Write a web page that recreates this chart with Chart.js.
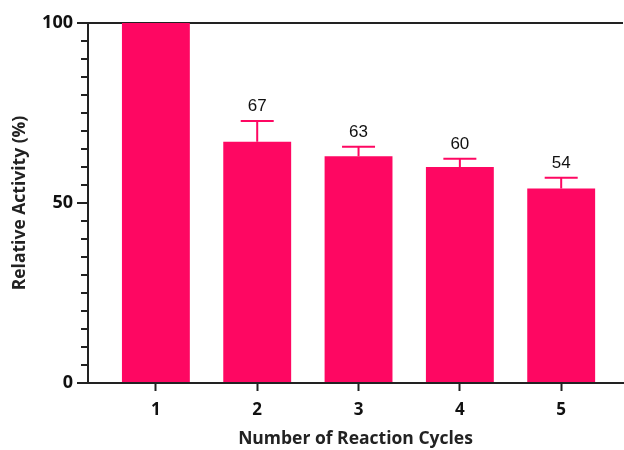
<!DOCTYPE html>
<html>
<head>
<meta charset="utf-8">
<script src="https://cdn.jsdelivr.net/npm/chart.js@4/dist/chart.umd.min.js"></script>
<style>
  html, body { margin: 0; padding: 0; background: #fff; }
  #wrap { width: 624px; height: 450px; }
</style>
</head>
<body>
<div id="wrap"><canvas id="myChart"></canvas></div>
<script>
const cycles = [1, 2, 3, 4, 5];
const activity = [100, 67, 63, 60, 54];
const errorUp = [0, 5.8, 2.6, 2.3, 3.0];
const valueLabels = ["", "67", "63", "60", "54"];
const yMajorTicks = [0, 50, 100];

const barColor = "#FE0762";

// error bars + value labels drawn through the scales
const errorBarPlugin = {
  id: "errorBars",
  afterDatasetsDraw(chart) {
    const ctx = chart.ctx;
    const x = chart.scales.x;
    const y = chart.scales.y;
    ctx.save();
    ctx.strokeStyle = barColor;
    ctx.lineWidth = 2;
    ctx.fillStyle = "#111";
    ctx.font = "17px 'Liberation Sans', Arial, sans-serif";
    ctx.textAlign = "center";
    ctx.textBaseline = "bottom";
    cycles.forEach((c, i) => {
      if (!errorUp[i]) return;
      const px = x.getPixelForValue(c);
      const top = y.getPixelForValue(activity[i]);
      const cap = y.getPixelForValue(activity[i] + errorUp[i]);
      ctx.beginPath();
      ctx.moveTo(px, top);
      ctx.lineTo(px, cap);
      ctx.moveTo(px - 16.5, cap);
      ctx.lineTo(px + 16.5, cap);
      ctx.stroke();
      ctx.fillText(valueLabels[i], px, cap - 6);
    });
    ctx.restore();
  },
};

// short minor ticks on the y axis
const minorTickPlugin = {
  id: "minorTicks",
  afterDraw(chart) {
    const ctx = chart.ctx;
    const y = chart.scales.y;
    const left = chart.chartArea.left;
    ctx.save();
    ctx.strokeStyle = "#222";
    ctx.lineWidth = 2;
    y.ticks.forEach((t) => {
      if (yMajorTicks.includes(t.value)) return;
      const py = Math.round(y.getPixelForValue(t.value));
      ctx.beginPath();
      ctx.moveTo(left - 7, py);
      ctx.lineTo(left, py);
      ctx.stroke();
    });
    ctx.restore();
  },
};

let myChart = document.getElementById("myChart").getContext("2d");
let barChart = new Chart(myChart, {
  type: "bar",
  data: {
    datasets: [
      {
        data: cycles.map((c, i) => ({ x: c, y: activity[i] })),
        backgroundColor: barColor,
        borderWidth: 0,
        barPercentage: 0.67,
        categoryPercentage: 1,
      },
    ],
  },
  options: {
    responsive: true,
    maintainAspectRatio: false,
    animation: false,
    layout: { padding: { top: 23, right: 1, left: 0, bottom: 0 } },
    plugins: {
      legend: { display: false },
      tooltip: { enabled: false },
    },
    scales: {
      x: {
        type: "linear",
        min: 0.33,
        max: 5.61,
        offset: false,
        afterBuildTicks: (scale) => {
          scale.ticks = cycles.map((c) => ({ value: c }));
        },
        afterFit: (scale) => {
          scale.height = 67;
        },
        ticks: {
          autoSkip: false,
          padding: 9,
          color: "#111",
          font: { family: "'Open Sans'", size: 17, weight: "bold" },
          callback: (v) => String(v),
        },
        grid: {
          offset: false,
          drawOnChartArea: false,
          drawTicks: true,
          tickLength: 8,
          tickWidth: 2,
          tickColor: "#222",
        },
        border: { display: true, color: "#222", width: 2 },
        title: {
          display: true,
          text: "Number of Reaction Cycles",
          color: "#222",
          font: { family: "'Open Sans'", size: 17.5, weight: "bold" },
          padding: { top: 0, bottom: 0 },
        },
      },
      y: {
        min: 0,
        max: 100,
        afterFit: (scale) => {
          scale.width = 88;
        },
        ticks: {
          stepSize: 5,
          autoSkip: false,
          padding: 4,
          color: "#111",
          font: { family: "'Open Sans'", size: 18, weight: "bold" },
          callback: (v) => (yMajorTicks.includes(v) ? String(v) : ""),
        },
        grid: {
          drawTicks: true,
          tickLength: 11,
          tickWidth: 2,
          tickColor: (c) => (c.tick && yMajorTicks.includes(c.tick.value) ? "#222" : "rgba(0,0,0,0)"),
          color: (c) => (c.tick && c.tick.value === 100 ? "#222" : "rgba(0,0,0,0)"),
          lineWidth: 2,
        },
        border: { display: true, color: "#222", width: 2 },
        title: {
          display: true,
          text: "Relative Activity (%)",
          color: "#222",
          font: { family: "'Open Sans'", size: 17.5, weight: "bold" },
          padding: { top: 9.5, bottom: 9.5 },
        },
      },
    },
  },
  plugins: [errorBarPlugin, minorTickPlugin],
});
</script>
</body>
</html>
